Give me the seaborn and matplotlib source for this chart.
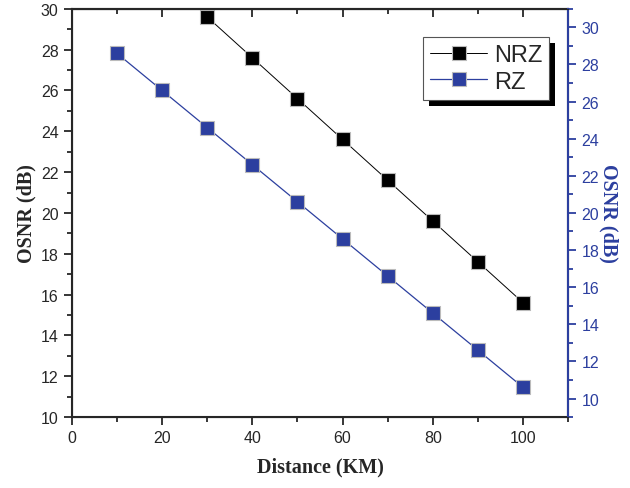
import pandas as pd
import matplotlib.pyplot as plt
import seaborn as sns
from matplotlib.ticker import MultipleLocator
from matplotlib.patches import Rectangle

dist_nrz = [30, 40, 50, 60, 70, 80, 90, 100]
osnr_nrz = [29.6, 27.6, 25.6, 23.6, 21.6, 19.6, 17.6, 15.6]
dist_rz = [10, 20, 30, 40, 50, 60, 70, 80, 90, 100]
osnr_rz = [28.6, 26.6, 24.6, 22.6, 20.6, 18.6, 16.6, 14.6, 12.6, 10.6]

nrz = pd.DataFrame({"dist": dist_nrz, "osnr": osnr_nrz})
rz = pd.DataFrame({"dist": dist_rz, "osnr": osnr_rz})

blue = "#2c3f9f"

sns.set_style("ticks")
plt.rcParams["font.family"] = ["Liberation Sans", "DejaVu Sans"]

fig = plt.figure(figsize=(6.3, 4.89), dpi=100)
ax1 = fig.add_axes([0.114, 0.145, 0.788, 0.835])
ax2 = ax1.twinx()

sns.lineplot(data=nrz, x="dist", y="osnr", ax=ax1, color="black", lw=0.7,
             marker="s", markersize=10, markeredgecolor="#bbbbbb",
             markeredgewidth=0.8, label="NRZ", legend=False)
sns.lineplot(data=rz, x="dist", y="osnr", ax=ax2, color=blue, lw=0.9,
             marker="s", markersize=10, markeredgecolor="#bbbbbb",
             markeredgewidth=0.8, label="RZ", legend=False)

ax1.set_xlim(0, 110)
ax1.set_ylim(10, 30)
ax2.set_ylim(9, 31)

ax1.xaxis.set_major_locator(MultipleLocator(20))
ax1.xaxis.set_minor_locator(MultipleLocator(10))
ax1.yaxis.set_major_locator(MultipleLocator(2))
ax1.yaxis.set_minor_locator(MultipleLocator(1))
ax2.yaxis.set_major_locator(MultipleLocator(2))
ax2.yaxis.set_minor_locator(MultipleLocator(1))

ax1.tick_params(axis="both", which="both", labelsize=11.5, width=1.3, direction="out")
ax1.tick_params(which="major", length=6)
ax1.tick_params(which="minor", length=3.5)
ax2.tick_params(axis="y", which="both", colors=blue, labelsize=11.5, width=1.3)
ax2.tick_params(which="major", length=6)
ax2.tick_params(which="minor", length=3.5)

# top ticks point inward
sec = ax1.secondary_xaxis("top")
sec.xaxis.set_major_locator(MultipleLocator(20))
sec.xaxis.set_minor_locator(MultipleLocator(10))
sec.tick_params(which="both", direction="in", labeltop=False, width=1.3)
sec.tick_params(which="major", length=6)
sec.tick_params(which="minor", length=3.5)
sec.spines["top"].set_linewidth(1.5)

for s in ax1.spines.values():
    s.set_linewidth(1.5)
ax2.spines["right"].set_color(blue)
ax2.spines["right"].set_linewidth(1.5)

serif = ["Liberation Serif", "DejaVu Serif"]
ax1.set_xlabel("Distance (KM)", fontsize=14.5, fontweight="bold", family=serif, labelpad=8)
ax1.set_ylabel("OSNR (dB)", fontsize=14.5, fontweight="bold", family=serif, labelpad=3)
ax2.set_ylabel("OSNR (dB)", fontsize=14.5, fontweight="bold", family=serif,
               color=blue, rotation=270, labelpad=14)

h1, l1 = ax1.get_legend_handles_labels()
h2, l2 = ax2.get_legend_handles_labels()
leg = ax2.legend(h1 + h2, l1 + l2, loc="upper right", bbox_to_anchor=(0.962, 0.931),
                 fontsize=17, frameon=True, fancybox=False, shadow=False,
                 framealpha=1, facecolor="white",
                 handlelength=2.4, borderpad=0.3, labelspacing=0.2,
                 handletextpad=0.3, borderaxespad=0)
leg.get_frame().set_edgecolor("#555555")
leg.get_frame().set_linewidth(0.8)
leg.set_zorder(5)

# solid black drop shadow behind the legend box
fig.canvas.draw()
bb = leg.get_window_extent().transformed(ax2.transAxes.inverted())
off = ax2.transAxes.inverted().transform([[0, 0], [6, 6]])
dx, dy = off[1] - off[0]
ax2.add_artist(Rectangle((bb.x0 + dx, bb.y0 - dy), bb.width, bb.height,
                         transform=ax2.transAxes, facecolor="black",
                         edgecolor="none", zorder=4, clip_on=False))

fig.savefig("out.png", dpi=100)
